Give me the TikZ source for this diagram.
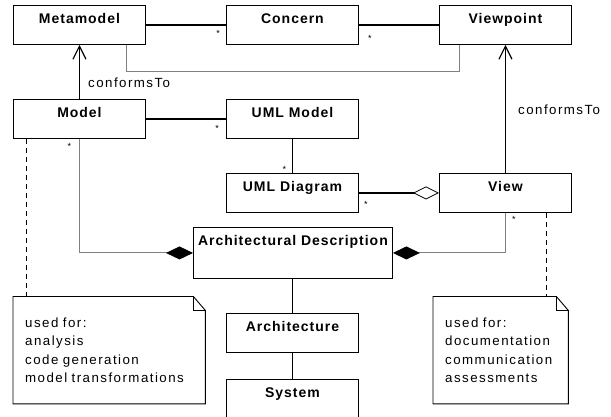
\documentclass[tikz,border=0pt]{standalone}
\usepackage{fontspec}
\setmainfont{Liberation Sans}[LetterSpace=11]
\newfontfamily\boxfont{Liberation Sans}[LetterSpace=7]
\usetikzlibrary{arrows.meta}
\definecolor{linegray}{gray}{0.5}
\tikzset{
  cls/.style={draw, line width=0.9pt, anchor=north west, minimum width=132pt, inner xsep=0pt, inner ysep=5pt,
    text height=13.3pt, text depth=15.7pt, font=\boxfont\bfseries\fontsize{14}{16}\selectfont},
  thickline/.style={line width=1.8pt},
  thinline/.style={draw=linegray, line width=1pt},
  conform/.style={line width=1.8pt, -{Straight Barb[length=13pt,width=13pt,line width=1.2pt]}},
  compose/.style={{Diamond[length=27pt,width=13pt,color=black]}-},
  dashline/.style={line width=0.9pt, dash pattern=on 5pt off 4pt},
  mult/.style={font=\fontsize{9}{9}\selectfont, inner sep=0pt},
  lbl/.style={font=\fontsize{13.3}{15}\selectfont, inner sep=0pt},
  notebox/.style={anchor=north west, align=left, inner xsep=12pt, inner ysep=0pt, minimum height=107pt,
    yshift=1.5pt, font=\fontsize{13.3}{18.3}\selectfont}
}
\begin{document}
\begin{tikzpicture}[x=1pt,y=-1pt]
\useasboundingbox (0,0) rectangle (611,417);
\node[cls] (metamodel) at (13,5) {Metamodel};
\node[cls] (concern) at (226,5) {Concern};
\node[cls] (viewpoint) at (439,5) {Viewpoint};
\node[cls] (model) at (13,99) {Model};
\node[cls] (umlmodel) at (226,99) {UML Model};
\node[cls] (umldiagram) at (226,173) {UML Diagram};
\node[cls] (view) at (439,173) {View};
\node[cls, minimum width=199pt, text depth=27.7pt] (ad) at (193,227) {Architectural Description};
\node[cls] (architecture) at (226,313) {Architecture};
\node[cls] (system) at (226,379) {System};
\node[notebox, text width=168pt] (noteA) at (13,298) {used for:\\analysis\\code generation\\model transformations};
\node[notebox, text width=111pt] (noteB) at (433,298) {used for:\\documentation\\communication\\assessments};
\draw[line width=0.9pt] (noteA.north west) -- ([xshift=-12pt]noteA.north east) -- ([yshift=-14pt]noteA.north east) -- (noteA.south east) -- (noteA.south west) -- cycle;
\draw[line width=0.9pt] ([xshift=-12pt]noteA.north east) |- ([yshift=-14pt]noteA.north east);
\draw[line width=0.9pt] (noteB.north west) -- ([xshift=-12pt]noteB.north east) -- ([yshift=-14pt]noteB.north east) -- (noteB.south east) -- (noteB.south west) -- cycle;
\draw[line width=0.9pt] ([xshift=-12pt]noteB.north east) |- ([yshift=-14pt]noteB.north east);
\draw[thickline] (metamodel.east) -- (concern.west);
\draw[thickline] (concern.east) -- (viewpoint.west);
\draw[thinline] ([xshift=-19pt]metamodel.south east) -- ++(0,27) -| ([xshift=20pt]viewpoint.south west);
\draw[conform] (model.north) -- (metamodel.south);
\draw[conform] (view.north) -- (viewpoint.south);
\node[lbl, anchor=base west] (conf1) at (88,87.3) {conformsTo};
\node[lbl, anchor=base west] (conf2) at (518,115) {conformsTo};
\draw[thickline] (model.east) -- (umlmodel.west);
\draw[thickline] (umlmodel.south) -- (umldiagram.north);
\draw[thickline, {Diamond[open,length=26pt,width=13pt,line width=0.8pt]}-] (view.west) -- (umldiagram.east);
\draw[thinline, compose] (ad.west) -| (model.south);
\draw[thinline, compose] (ad.east) -| (view.south);
\draw[thickline] (architecture.north |- ad.south) -- (architecture.north);
\draw[thickline] (architecture.south) -- (system.north);
\draw[dashline] ([xshift=13pt]model.south west) -- ([xshift=13pt]noteA.north west);
\draw[dashline] ([xshift=107pt]view.south west) -- ([xshift=113pt]noteB.north west);
\node[mult] (s1) at ([xshift=-8pt,yshift=-8.5pt]concern.west) {*};
\node[mult] (s2) at ([xshift=11pt,yshift=-13.5pt]concern.east) {*};
\node[mult] (s3) at ([xshift=-9pt,yshift=-9.5pt]umlmodel.west) {*};
\node[mult] (s4) at ([xshift=-8pt,yshift=4pt]umldiagram.north) {*};
\node[mult] (s5) at ([xshift=7pt,yshift=-11pt]umldiagram.east) {*};
\node[mult] (s6) at ([xshift=-10pt,yshift=-8pt]model.south) {*};
\node[mult] (s7) at ([xshift=8.5pt,yshift=-7pt]view.south) {*};
\end{tikzpicture}
\end{document}
